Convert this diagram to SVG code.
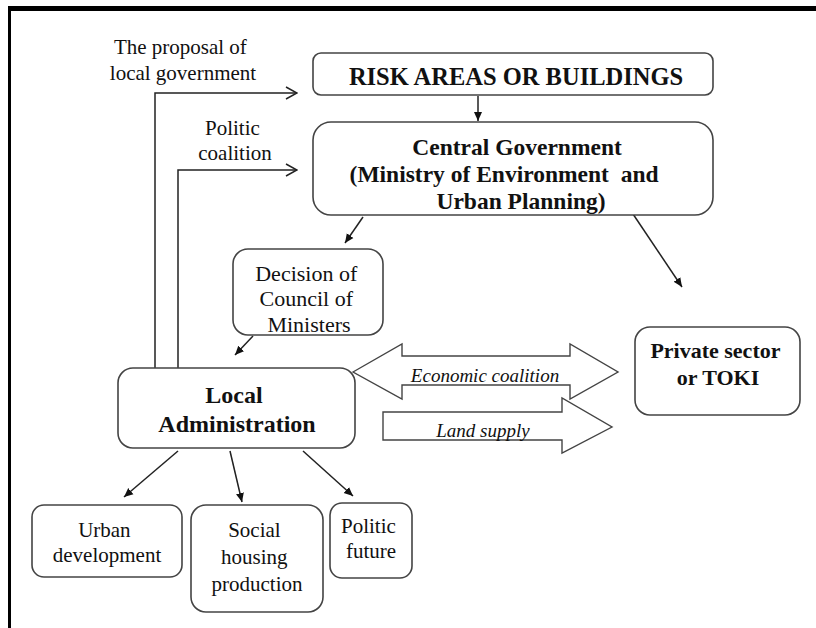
<svg xmlns="http://www.w3.org/2000/svg" width="816" height="628" viewBox="0 0 816 628">
  <defs>
    <style>
      .box { fill: #fff; stroke: #444; stroke-width: 1.6; }
      .fat { fill: #fff; stroke: #444; stroke-width: 1.4; }
      .t { fill: #111; text-anchor: middle; font-family: "Liberation Serif", "Times New Roman", serif; }
      .b { font-weight: bold; }
      .i { font-style: italic; }
      .ln { fill: none; stroke: #222; stroke-width: 1.5; }
    </style>
    <marker id="fill" markerWidth="10" markerHeight="10" refX="9" refY="5" orient="auto" markerUnits="userSpaceOnUse">
      <path d="M0,1 L9,5 L0,9 Z" fill="#111"/>
    </marker>
    <marker id="open" markerWidth="14" markerHeight="14" refX="13" refY="7" orient="auto" markerUnits="userSpaceOnUse">
      <path d="M2,1 L13,7 L2,13" fill="none" stroke="#222" stroke-width="1.5"/>
    </marker>
  </defs>

  <rect width="816" height="628" fill="#fff"/>
  <!-- frame -->
  <rect x="8" y="6" width="808" height="5" fill="#000"/>
  <rect x="8" y="6" width="3" height="622" fill="#000"/>

  <g id="connectors">
    <polyline class="ln" points="155,368 155,93 297,93" marker-end="url(#open)"/>
    <polyline class="ln" points="178,368 178,170 297,170" marker-end="url(#open)"/>
    <line class="ln" x1="478" y1="96" x2="478" y2="121" marker-end="url(#fill)"/>
    <line class="ln" x1="363" y1="217" x2="345" y2="243" marker-end="url(#fill)"/>
    <line class="ln" x1="633" y1="214" x2="682" y2="287" marker-end="url(#fill)"/>
    <line class="ln" x1="253" y1="336" x2="235" y2="355" marker-end="url(#fill)"/>
    <line class="ln" x1="178" y1="451" x2="124" y2="497" marker-end="url(#fill)"/>
    <line class="ln" x1="230" y1="451" x2="242" y2="502" marker-end="url(#fill)"/>
    <line class="ln" x1="303" y1="451" x2="353" y2="496" marker-end="url(#fill)"/>
  </g>

  <g id="risk">
    <rect class="box" x="313" y="53" width="400" height="42" rx="8"/>
    <text class="t b" x="516" y="85" font-size="24.5">RISK AREAS OR BUILDINGS</text>
  </g>

  <g id="central">
    <rect class="box" x="313" y="122" width="400" height="93" rx="18"/>
    <text class="t b" font-size="23.5">
      <tspan x="520" y="155">Central Government</tspan>
      <tspan x="507" y="182">(Ministry of Environment&#160; and</tspan>
      <tspan x="521" y="209">Urban Planning)</tspan>
    </text>
  </g>

  <g id="proposal-label">
    <text class="t" font-size="21">
      <tspan x="183" y="54">The proposal of</tspan>
      <tspan x="183" y="80">local government</tspan>
    </text>
  </g>

  <g id="coalition-label">
    <text class="t" font-size="21">
      <tspan x="235" y="135">Politic</tspan>
      <tspan x="235" y="160">coalition</tspan>
    </text>
  </g>

  <g id="decision">
    <rect class="box" x="233" y="249" width="150" height="86" rx="15"/>
    <text class="t" font-size="22">
      <tspan x="309" y="281">Decision of</tspan>
      <tspan x="309" y="306">Council of</tspan>
      <tspan x="309" y="332">Ministers</tspan>
    </text>
  </g>

  <g id="private">
    <rect class="box" x="635" y="327" width="165" height="88" rx="15"/>
    <text class="t b" font-size="22">
      <tspan x="718" y="358">Private sector</tspan>
      <tspan x="718" y="385">or TOKI</tspan>
    </text>
  </g>

  <g id="local">
    <rect class="box" x="118" y="368" width="237" height="80" rx="15"/>
    <text class="t b" font-size="24">
      <tspan x="237" y="403">Local</tspan>
      <tspan x="237" y="432">Administration</tspan>
    </text>
  </g>

  <g id="economic-coalition">
    <polygon class="fat" points="353,372 402,344 402,356 570,356 570,344 618,372 570,399 570,385 402,385 402,399"/>
    <text class="t i" x="485" y="382" font-size="19">Economic coalition</text>
  </g>

  <g id="land-supply">
    <polygon class="fat" points="383,412 562,412 562,398 612,427 562,453 562,440 383,440"/>
    <text class="t i" x="483" y="437" font-size="19">Land supply</text>
  </g>

  <g id="urban">
    <rect class="box" x="32" y="505" width="150" height="72" rx="12"/>
    <text class="t" font-size="21">
      <tspan x="107" y="537">Urban</tspan>
      <tspan x="107" y="562">development</tspan>
    </text>
  </g>

  <g id="housing">
    <rect class="box" x="191" y="505" width="132" height="107" rx="15"/>
    <text class="t" font-size="21">
      <tspan x="257" y="537">Social</tspan>
      <tspan x="257" y="564">housing</tspan>
      <tspan x="257" y="591">production</tspan>
    </text>
  </g>

  <g id="future">
    <rect class="box" x="330" y="503" width="82" height="75" rx="12"/>
    <text class="t" font-size="21">
      <tspan x="371" y="533">Politic</tspan>
      <tspan x="371" y="558">future</tspan>
    </text>
  </g>
</svg>
